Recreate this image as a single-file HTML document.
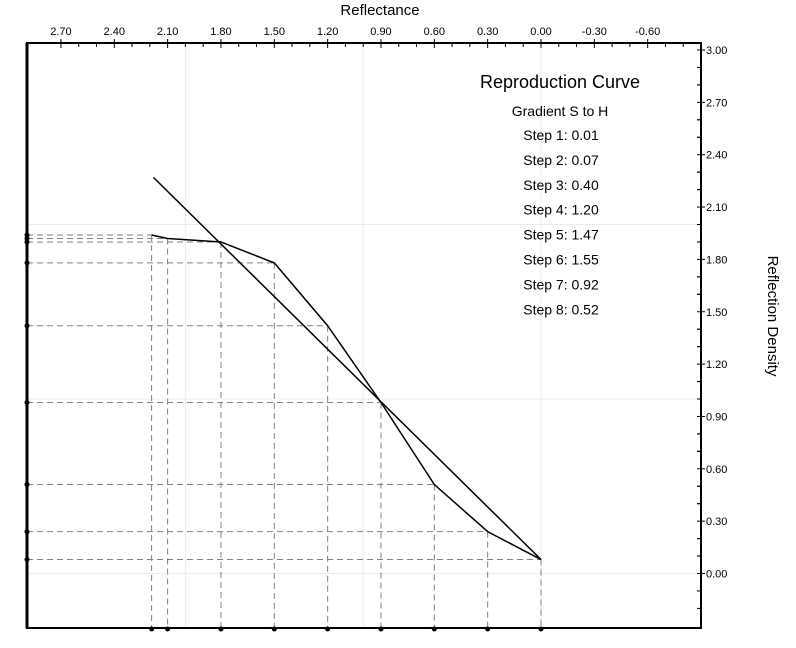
<!DOCTYPE html>
<html><head><meta charset="utf-8"><style>
body{margin:0;background:#fff;}
svg{display:block;font-family:"Liberation Sans",sans-serif;}
</style></head><body>
<svg id="chart" width="796" height="648" viewBox="0 0 796 648">
<g id="grid"></g>
<g id="guides"></g>
<g id="series"></g>
<g id="axes"></g>
<text x="380" y="15" font-size="15" text-anchor="middle">Reflectance</text>
<text transform="translate(768,316) rotate(90)" font-size="15" text-anchor="middle">Reflection Density</text>
<g text-anchor="middle" font-size="14">
<text x="560" y="88" font-size="18">Reproduction Curve</text>
<text x="560" y="116">Gradient  S to  H</text>
</g>
<g id="steps" text-anchor="middle" font-size="14"></g>
</svg>
<script>
const reflectance = [2.19, 2.10, 1.80, 1.50, 1.20, 0.90, 0.60, 0.30, 0.00];
const density = [1.94, 1.92, 1.90, 1.78, 1.42, 0.98, 0.51, 0.24, 0.08];
const aimReflectance = [2.18, 0.00];
const aimDensity = [2.27, 0.08];
const xTickLabels = ["2.70","2.40","2.10","1.80","1.50","1.20","0.90","0.60","0.30","0.00","-0.30","-0.60"];
const yTickLabels = ["0.00","0.30","0.60","0.90","1.20","1.50","1.80","2.10","2.40","2.70","3.00"];
const stepLabels = ["Step 1: 0.01","Step 2: 0.07","Step 3: 0.40","Step 4: 1.20","Step 5: 1.47","Step 6: 1.55","Step 7: 0.92","Step 8: 0.52"];

const NS="http://www.w3.org/2000/svg";
const L=27,R=701,T=43,B=628;
const X=r=>541-r*177.8;
const Y=d=>573.5-d*174.5;
function mk(tag,attrs,parent){const e=document.createElementNS(NS,tag);for(const k in attrs)e.setAttribute(k,attrs[k]);parent.appendChild(e);return e;}
const grid=document.getElementById('grid'),guides=document.getElementById('guides'),series=document.getElementById('series'),axes=document.getElementById('axes'),steps=document.getElementById('steps');

[0,1,2].forEach(v=>{
  const g1=mk('line',{x1:X(v),x2:X(v),y1:T,y2:B,stroke:'#ececec','stroke-width':1},grid);
  
  
  const g2=mk('line',{x1:L,x2:R,y1:Y(v),y2:Y(v),stroke:'#ececec','stroke-width':1},grid);
  
  
});

reflectance.forEach((r,i)=>{
  const x=X(r),y=Y(density[i]);
  const h=mk('line',{x1:L,x2:x,y1:y,y2:y,stroke:'#808080','stroke-width':1,'stroke-dasharray':'6,4'},guides);
  
  
  const v=mk('line',{x1:x,x2:x,y1:y,y2:B,stroke:'#808080','stroke-width':1,'stroke-dasharray':'6,4'},guides);
  
  
  const m1=mk('circle',{cx:L,cy:y,r:2.5,fill:'#000'},axes);
  
  
  const m2=mk('circle',{cx:x,cy:B+1,r:2.5,fill:'#000'},axes);
  
  
});

const curve=mk('polyline',{points:reflectance.map((r,i)=>X(r)+','+Y(density[i])).join(' '),fill:'none',stroke:'#000','stroke-width':1.5},series);


const aim=mk('line',{x1:X(aimReflectance[0]),y1:Y(aimDensity[0]),x2:X(aimReflectance[1]),y2:Y(aimDensity[1]),stroke:'#000','stroke-width':1.5},series);



const frame=mk('path',{d:`M${L},${B} L${L},${T} L${R},${T} L${R},${B} Z`,fill:'none',stroke:'#000','stroke-width':2},axes);


const leftAxis=mk('line',{x1:L,x2:L,y1:T,y2:B,stroke:'#000','stroke-width':3},axes);



xTickLabels.forEach(s=>{
  const v=parseFloat(s),x=X(v);
  const t=mk('line',{x1:x,x2:x,y1:T-4,y2:T+5,stroke:'#000','stroke-width':1},axes);
  
  
  const tx=mk('text',{x:x,y:T-8,'font-size':11,'text-anchor':'middle'},axes);
  tx.textContent=s;
  
  
  [0.1,0.2].forEach(o=>{const xm=X(v-o);if(xm<R-2){
    const m=mk('line',{x1:xm,x2:xm,y1:T,y2:T+4,stroke:'#000','stroke-width':1},axes);
    
    }});
});
yTickLabels.forEach(s=>{
  const v=parseFloat(s),y=Y(v);
  const t=mk('line',{x1:R-4,x2:R+4,y1:y,y2:y,stroke:'#000','stroke-width':1},axes);
  
  
  const tx=mk('text',{x:R+5,y:y+4,'font-size':11},axes);
  tx.textContent=s;
  
  
  [0.1,0.2,-0.1,-0.2].forEach(o=>{const ym=Y(v+o);if(ym>T+2&&ym<B-2&&(v+o<3.01)){
    const m=mk('line',{x1:R-4,x2:R,y1:ym,y2:ym,stroke:'#000','stroke-width':1},axes);
    
    }});
});
stepLabels.forEach((s,i)=>{
  const t=mk('text',{x:561,y:140+i*24.9},steps);
  t.textContent=s;
  
  
});
</script>
</body></html>
